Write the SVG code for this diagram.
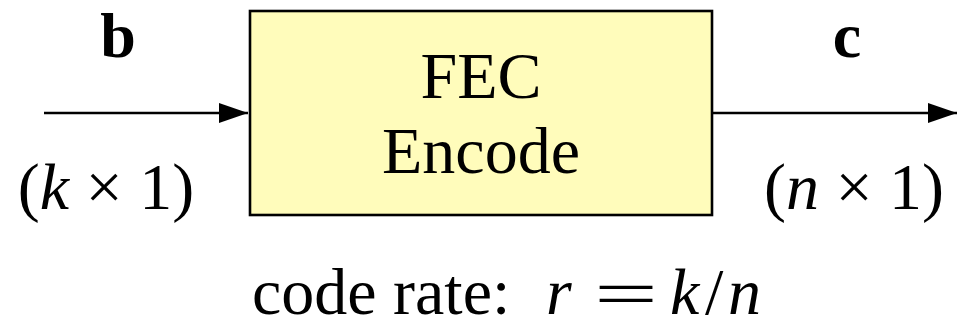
<svg xmlns="http://www.w3.org/2000/svg" width="958" height="329" viewBox="0 0 958 329">
<style>
text{font-family:"Liberation Serif","Times New Roman",serif;font-size:66px;fill:#000}
.it{font-style:italic}
.bd{font-weight:bold;font-size:64px}
.conn{stroke:#000;stroke-width:2.6;fill:none}
</style>
<defs>
<marker id="ah" markerUnits="userSpaceOnUse" markerWidth="30" markerHeight="22" refX="29" refY="10" orient="auto">
<path d="M0,0 L29,10 L0,20 Z" fill="#000"/>
</marker>
</defs>
<rect width="958" height="329" fill="#fff"/>
<g id="connectors">
<line class="conn" x1="44" y1="113" x2="248" y2="113" marker-end="url(#ah)"/>
<line class="conn" x1="712" y1="113" x2="957" y2="113" marker-end="url(#ah)"/>
</g>
<g id="encoder">
<rect x="250" y="11" width="462" height="204" fill="#FFFCBB" stroke="#000" stroke-width="2.6"/>
<text x="481" y="98" text-anchor="middle">FEC</text>
<text x="481" y="173" text-anchor="middle">Encode</text>
</g>
<g id="input-label">
<text x="118" y="57" text-anchor="middle" class="bd">b</text>
<text x="106" y="209" text-anchor="middle">(<tspan class="it">k</tspan> × 1)</text>
</g>
<g id="output-label">
<text x="847" y="57" text-anchor="middle" class="bd">c</text>
<text x="854" y="209" text-anchor="middle">(<tspan class="it">n</tspan> × 1)</text>
</g>
<g id="rate-label">
<text x="252" y="314">code rate:</text>
<text x="546" y="314" class="it">r</text>
<text x="594" y="316" textLength="64" lengthAdjust="spacingAndGlyphs">=</text>
<text x="670" y="314"><tspan class="it">k</tspan><tspan x="705">/</tspan><tspan x="728" class="it">n</tspan></text>
</g>
</svg>
